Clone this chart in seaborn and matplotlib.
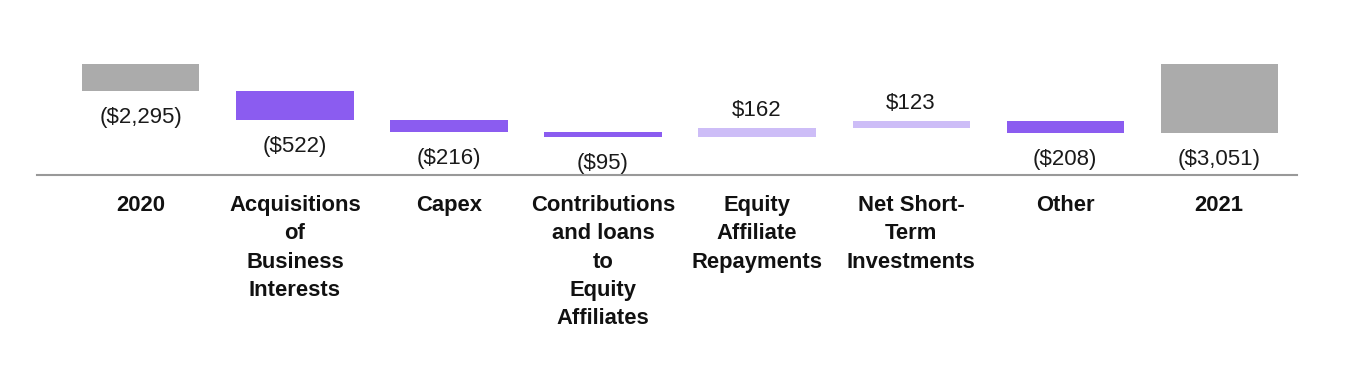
import numpy as np
import pandas as pd
import matplotlib
matplotlib.use("Agg")
import matplotlib.pyplot as plt
import seaborn as sns

categories = ["2020", "Acquisitions\nof\nBusiness\nInterests", "Capex",
              "Contributions\nand loans\nto\nEquity\nAffiliates",
              "Equity\nAffiliate\nRepayments", "Net Short-\nTerm\nInvestments",
              "Other", "2021"]
changes = [-2295, -522, -216, -95, 162, 123, -208, -3051]
labels = ["($2,295)", "($522)", "($216)", "($95)", "$162", "$123", "($208)", "($3,051)"]
kinds = ["total", "neg", "neg", "neg", "pos", "pos", "neg", "total"]

color_map = {"total": "#ABABAB", "neg": "#8B5CF0", "pos": "#CDBDF7"}

# waterfall bottoms
bottoms = []
running = 0
for v, k in zip(changes, kinds):
    if k == "total":
        bottoms.append(0)
        running = v
    else:
        bottoms.append(running)
        running += v
ends = [b + v for b, v in zip(bottoms, changes)]

sns.set_theme(style="white")
plt.rcParams["font.family"] = ["Liberation Sans", "DejaVu Sans"]

fig = plt.figure(figsize=(13.6, 3.9), dpi=100)
ax = fig.add_axes([37 / 1360, 1 - 175 / 390, 1260 / 1360, 111 / 390])

df = pd.DataFrame({"cat": categories, "change": changes})
sns.barplot(data=df, x="cat", y="change", order=categories, bottom=bottoms,
            color=color_map["neg"], saturation=1,
            width=0.76, linewidth=0, ax=ax, errorbar=None)
for p, k in zip(ax.patches, kinds):
    p.set_facecolor(color_map[k])
    p.set_edgecolor("none")

ax.set_ylim(-3810, -1810)
ax.set_xlim(-0.675, 7.506)

for i, (e, lab, k) in enumerate(zip(ends, labels, kinds)):
    if changes[i] < 0:
        ax.annotate(lab, (i, e), xytext=(0, -19), textcoords="offset points",
                    ha="center", va="center", fontsize=16, color="#1a1a1a",
                    annotation_clip=False)
    else:
        ax.annotate(lab, (i, e), xytext=(0, 13), textcoords="offset points",
                    ha="center", va="center", fontsize=16, color="#1a1a1a",
                    annotation_clip=False)

ax.set_xlabel("")
ax.set_ylabel("")
ax.set_yticks([])
ax.set_xticks(range(len(categories)))
ax.set_xticklabels(categories, fontweight="bold", fontsize=15.8, linespacing=1.45,
                   color="#111111")
ax.tick_params(axis="x", length=0, pad=14.5)
for s in ["top", "left", "right"]:
    ax.spines[s].set_visible(False)
ax.spines["bottom"].set_color("#999999")
ax.spines["bottom"].set_linewidth(1.5)
ax.set_facecolor("white")
fig.patch.set_facecolor("white")

fig.savefig("out.png", dpi=100, facecolor="white")
